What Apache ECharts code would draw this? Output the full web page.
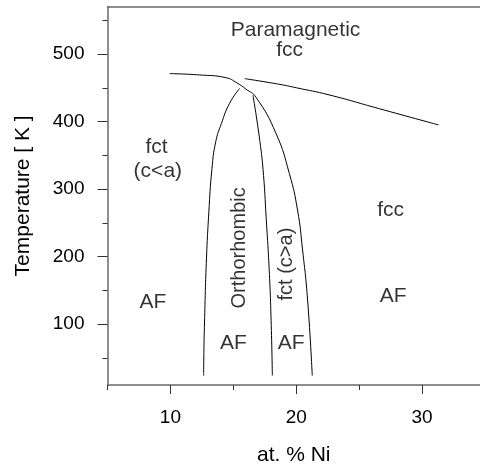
<!DOCTYPE html>
<html>
<head>
<meta charset="utf-8">
<script src="https://cdn.jsdelivr.net/npm/echarts@6/dist/echarts.min.js"></script>
<style>
html, body { margin: 0; padding: 0; background: #fff; }
#chart { width: 480px; height: 471px; }
</style>
</head>
<body>
<div id="chart"></div>
<script>
// axis ticks
let xMajor = [10, 20, 30];
let xMinor = [5, 15, 25, 35];
let yMajor = [100, 200, 300, 400, 500];
let yMinor = [50, 150, 250, 350, 450, 550];

// phase boundaries, [at.% Ni, T in K]
let fctUpper = [[9.94, 471], [12.3, 469], [14.4, 465], [15.3, 457], [16.0, 448], [16.8, 436],
                [18.4, 382], [19.45, 323], [20.1, 269], [20.5, 210], [20.9, 136], [21.27, 24]];
let fccUpper = [[15.9, 463.5], [18.7, 455], [20.0, 450], [22.6, 439.5], [26.6, 419], [31.3, 395]];
let orthoLeft = [[15.5, 449], [14.7, 427], [14.05, 397], [13.6, 370], [13.3, 330], [13.05, 265],
                 [12.85, 190], [12.72, 110], [12.66, 60], [12.64, 24]];
let orthoRight = [[16.56, 439], [17.1, 372], [17.4, 320], [17.6, 260], [17.85, 180],
                  [18.0, 106], [18.1, 24]];

// region labels
let labelText = ['Paramagnetic', 'fcc', 'fct', '(c<a)', 'fcc', 'AF', 'AF', 'AF', 'AF'];
let labelPos = [[19.94, 535], [19.47, 505], [8.9, 362], [9.0, 326], [27.5, 269],
                [8.6, 133], [15.0, 72], [19.6, 72], [27.7, 141]];
let sideText = ['Orthorhombic', 'fct (c>a)'];
let sidePos = [[15.5, 213], [19.2, 189]];

let font = 'Liberation Sans, Arial, sans-serif';
let axisGrey = '#6a6a6a';

let chart = echarts.init(document.getElementById('chart'));

let lineSeries = function(data){
    return {
        type: 'line', data: data, smooth: true, showSymbol: false, silent: true,
        xAxisIndex: 0, yAxisIndex: 0,
        lineStyle: {color: '#000', width: 1}
    };
};

let textSeries = function(names, pos, rotate, size){
    return {
        type: 'scatter', symbolSize: 0, silent: true, xAxisIndex: 0, yAxisIndex: 0,
        data: names.map(function(n, i){ return {name: n, value: pos[i]}; }),
        label: {
            show: true, position: 'inside', formatter: '{b}', rotate: rotate,
            color: '#000', fontSize: size, fontFamily: font
        }
    };
};

let option = {
    animation: false,
    backgroundColor: '#fff',
    grid: {left: 107.5, right: 0, top: 6.7, bottom: 86},
    xAxis: [{
        type: 'value', min: 5, max: 34.6, position: 'bottom',
        name: 'at. % Ni', nameLocation: 'middle', nameGap: 60,
        nameTextStyle: {color: '#000', fontSize: 21, fontFamily: font},
        axisLine: {show: true, lineStyle: {color: axisGrey, width: 1.5}},
        axisTick: {show: true, length: 9, customValues: xMajor, lineStyle: {color: '#333'}},
        axisLabel: {customValues: xMajor, margin: 23, color: '#000', fontSize: 19, fontFamily: font},
        splitLine: {show: false}
    }, {
        type: 'value', min: 5, max: 34.6, position: 'bottom',
        axisLine: {show: false},
        axisTick: {show: true, length: 5, customValues: xMinor, lineStyle: {color: '#333'}},
        axisLabel: {show: false},
        splitLine: {show: false}
    }, {
        type: 'value', min: 5, max: 34.6, position: 'top',
        axisLine: {show: true, lineStyle: {color: axisGrey, width: 1.5}},
        axisTick: {show: false}, axisLabel: {show: false}, splitLine: {show: false}
    }],
    yAxis: [{
        type: 'value', min: 10, max: 570, position: 'left',
        name: 'Temperature [ K ]', nameLocation: 'middle', nameGap: 74,
        nameTextStyle: {color: '#000', fontSize: 21, fontFamily: font},
        axisLine: {show: true, lineStyle: {color: axisGrey, width: 1.5}},
        axisTick: {show: true, length: 10, customValues: yMajor, lineStyle: {color: '#333'}},
        axisLabel: {customValues: yMajor, margin: 23, color: '#000', fontSize: 19, fontFamily: font},
        splitLine: {show: false}
    }, {
        type: 'value', min: 10, max: 570, position: 'left',
        axisLine: {show: false},
        axisTick: {show: true, length: 5, customValues: yMinor, lineStyle: {color: '#333'}},
        axisLabel: {show: false},
        splitLine: {show: false}
    }],
    series: [
        lineSeries(fctUpper),
        lineSeries(fccUpper),
        lineSeries(orthoLeft),
        lineSeries(orthoRight),
        textSeries(labelText, labelPos, 0, 21),
        textSeries(sideText, sidePos, 90, 20)
    ]
};

chart.setOption(option);
</script>
</body>
</html>
